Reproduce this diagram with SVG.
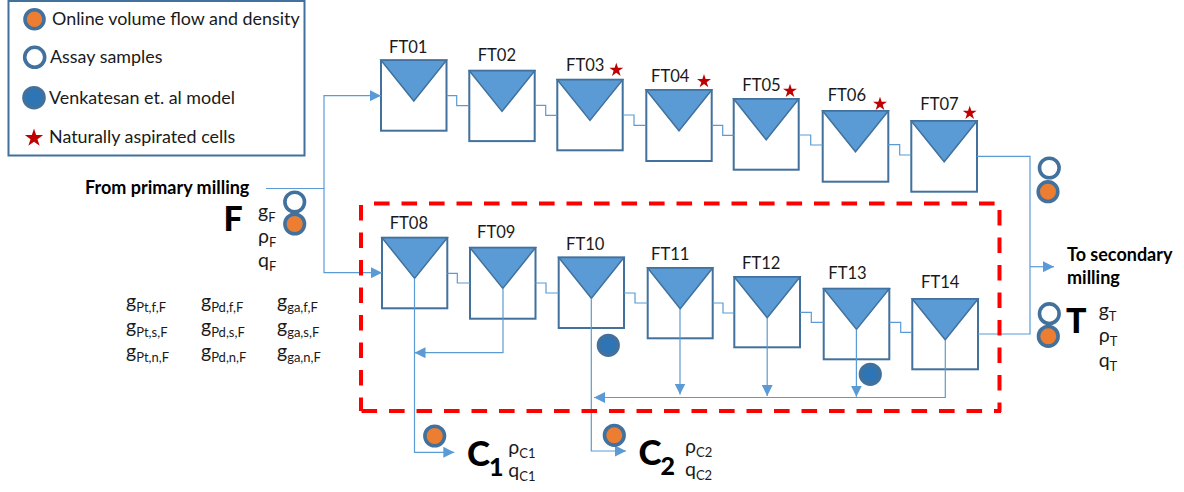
<svg xmlns="http://www.w3.org/2000/svg" width="1184" height="492" viewBox="0 0 1184 492">
<style>
text{font-family:Lato,Carlito,"Open Sans",sans-serif;fill:#1a1a1a}
.l{font-size:17.9px}
.ft{font-size:16.6px}
.v{font-size:19.5px}
.bl{font-size:18px;font-weight:700;fill:#000}
.big{font-size:34px;font-weight:900;fill:#000}
.cc{font-size:35px;font-weight:900;fill:#000}
.cn{font-size:25px;font-weight:900;fill:#000}
.s{font-size:13px}
.box{fill:#fff;stroke:#41719C;stroke-width:2}
.tri{fill:#5B9BD5;stroke:#41719C;stroke-width:1.5;stroke-linejoin:miter}
.c{fill:none;stroke:#5B9BD5;stroke-width:1.2}
.or{fill:#ED7D31;stroke:#41719C;stroke-width:3.6}
.as{fill:#fff;stroke:#41719C;stroke-width:3.6}
.ve{fill:#2E75B6;stroke:#41719C;stroke-width:3.6}
.st{fill:#C00000}
.red{fill:none;stroke:#FF0000;stroke-width:4;stroke-dasharray:15.6 11.9}
</style>
<defs>
<marker id="arr" markerUnits="userSpaceOnUse" markerWidth="11" markerHeight="11" viewBox="0 0 10 10" refX="10" refY="5" orient="auto"><path d="M0 0L10 5L0 10Z" fill="#5B9BD5"/></marker>
<path id="star" d="M0-8L1.8-2.48L7.61-2.47L2.91 .95L4.7 6.47L0 3.06L-4.7 6.47L-2.91 .95L-7.61-2.47L-1.8-2.48Z"/>
</defs>

<g id="legend">
<rect x="8.5" y="1" width="296" height="154.5" fill="#fff" stroke="#41719C" stroke-width="2"/>
<circle class="or" cx="34.5" cy="19.3" r="9.5"/>
<text class="l" x="52" y="25">Online volume flow and density</text>
<circle class="as" cx="34.7" cy="57.3" r="10"/>
<text class="l" x="50" y="63">Assay samples</text>
<circle class="ve" cx="34" cy="97.7" r="10"/>
<text class="l" x="49" y="104">Venkatesan et. al model</text>
<use href="#star" class="st" transform="translate(34 138) scale(1.2)"/>
<text class="l" x="49" y="143">Naturally aspirated cells</text>
</g>

<g id="nodes-top">
<g id="FT01"><rect class="box" x="381" y="60.3" width="65.5" height="70.4"/><path class="tri" d="M381 60.3H446.5L413.8 101Z"/><text class="ft" x="389" y="53">FT01</text></g>
<g id="FT02"><rect class="box" x="469.3" y="70.7" width="65.4" height="70.4"/><path class="tri" d="M469.3 70.7H534.7L502 111.4Z"/><text class="ft" x="477.7" y="60.7">FT02</text></g>
<g id="FT03"><rect class="box" x="557.3" y="79.7" width="65.4" height="70.6"/><path class="tri" d="M557.3 79.7H622.7L590 120.4Z"/><text class="ft" x="566" y="71.3">FT03</text><use href="#star" class="st" transform="translate(616.3 70) scale(.92)"/></g>
<g id="FT04"><rect class="box" x="646.3" y="90" width="65.4" height="71"/><path class="tri" d="M646.3 90H711.7L679 130.7Z"/><text class="ft" x="651" y="82">FT04</text><use href="#star" class="st" transform="translate(704 81.3) scale(.92)"/></g>
<g id="FT05"><rect class="box" x="733.7" y="99" width="65" height="70.7"/><path class="tri" d="M733.7 99H798.7L766.2 139.7Z"/><text class="ft" x="742.3" y="91">FT05</text><use href="#star" class="st" transform="translate(790 91) scale(.92)"/></g>
<g id="FT06"><rect class="box" x="822.7" y="111" width="65.6" height="70.7"/><path class="tri" d="M822.7 111H888.3L855.5 151.7Z"/><text class="ft" x="827.7" y="101">FT06</text><use href="#star" class="st" transform="translate(880 104) scale(.92)"/></g>
<g id="FT07"><rect class="box" x="911.3" y="121" width="65.7" height="70.7"/><path class="tri" d="M911.3 121H977L944.2 161.7Z"/><text class="ft" x="920.3" y="110">FT07</text><use href="#star" class="st" transform="translate(969.7 113) scale(.92)"/></g>
</g>

<g id="nodes-bottom">
<g id="FT08"><rect class="box" x="382" y="237.7" width="65.3" height="70.6"/><path class="tri" d="M382 237.7H447.3L414.6 278.4Z"/><text class="ft" x="389.7" y="229.3">FT08</text></g>
<g id="FT09"><rect class="box" x="470" y="247.7" width="65.5" height="71"/><path class="tri" d="M470 247.7H535.5L502.8 288.4Z"/><text class="ft" x="477" y="238">FT09</text></g>
<g id="FT10"><rect class="box" x="558.7" y="257.5" width="65.3" height="70.5"/><path class="tri" d="M558.7 257.5H624L591.4 298.2Z"/><text class="ft" x="566" y="250">FT10</text></g>
<g id="FT11"><rect class="box" x="647.7" y="268" width="65" height="70.3"/><path class="tri" d="M647.7 268H712.7L680.2 308.7Z"/><text class="ft" x="651" y="260">FT11</text></g>
<g id="FT12"><rect class="box" x="734.3" y="277" width="65.7" height="70.3"/><path class="tri" d="M734.3 277H800L767.2 317.7Z"/><text class="ft" x="742" y="269">FT12</text></g>
<g id="FT13"><rect class="box" x="823.7" y="288.7" width="65.6" height="70.6"/><path class="tri" d="M823.7 288.7H889.3L856.5 329.4Z"/><text class="ft" x="828.3" y="279">FT13</text></g>
<g id="FT14"><rect class="box" x="912.3" y="299" width="65.7" height="70.3"/><path class="tri" d="M912.3 299H978L945.2 339.7Z"/><text class="ft" x="921" y="288">FT14</text></g>
</g>

<g id="connectors">
<path class="c" d="M266 188.5H324V95.7H381" marker-end="url(#arr)"/>
<path class="c" d="M324 188.5V272.7H382" marker-end="url(#arr)"/>
<path class="c" d="M446.7 95.7H456.7V105.7H469.3"/>
<path class="c" d="M534.7 105.3H545.7V115.3H557.3"/>
<path class="c" d="M622.7 115H634V125.3H646.3"/>
<path class="c" d="M711.7 125.3H722.7V135.3H733.7"/>
<path class="c" d="M798.7 135H810.7V145H822.7"/>
<path class="c" d="M888.3 144.7H899.7V155H911.3"/>
<path class="c" d="M447.3 273.3H457.3V283H470"/>
<path class="c" d="M535.5 283H546V293H558.7"/>
<path class="c" d="M624 293H635V303H647.7"/>
<path class="c" d="M712.7 303H723V313H734.3"/>
<path class="c" d="M800 312.3H811.3V322.3H823.7"/>
<path class="c" d="M889.3 322.3H900.7V332.3H912.3"/>
<path class="c" d="M977 156.3H1030V334H978"/>
<path class="c" d="M1030 266.7H1054" marker-end="url(#arr)"/>
<path class="c" d="M414.5 278.4V452.3H454.3" marker-end="url(#arr)"/>
<path class="c" d="M503 288.4V352.7H414.5" marker-end="url(#arr)"/>
<path class="c" d="M591.3 298.2V451H626" marker-end="url(#arr)"/>
<path class="c" d="M680 308.7V394.5" marker-end="url(#arr)"/>
<path class="c" d="M767.2 317.7V396" marker-end="url(#arr)"/>
<path class="c" d="M856.4 329.4V396.7" marker-end="url(#arr)"/>
<path class="c" d="M945.3 339.7V397.5H594" marker-end="url(#arr)"/>
</g>

<g id="boundary">
<path class="red" d="M361 205V411"/>
<path class="red" d="M361.5 411H1001"/>
<path class="red" d="M374 203.5H995"/>
<path class="red" d="M999.5 210V412"/>
</g>

<g id="streams">
<circle class="as" cx="294.7" cy="202" r="9.8"/>
<circle class="or" cx="294.7" cy="224" r="9.8"/>
<circle class="as" cx="1049.3" cy="168" r="9.8"/>
<circle class="or" cx="1048" cy="191.7" r="9.8"/>
<circle class="as" cx="1049.3" cy="313.7" r="9.8"/>
<circle class="or" cx="1048.3" cy="336.3" r="9.8"/>
<circle class="ve" cx="608.3" cy="345.3" r="9.8"/>
<circle class="ve" cx="870.3" cy="374.3" r="9.8"/>
<circle class="or" cx="434.7" cy="436" r="9.8"/>
<circle class="or" cx="614.3" cy="435.3" r="9.8"/>
</g>

<g id="labels">
<text class="bl" x="85" y="194">From primary milling</text>
<text class="big" x="223.5" y="231">F</text>
<text class="v" x="258" y="218">g<tspan class="s" dy="4">F</tspan></text>
<text class="v" x="258" y="243">ρ<tspan class="s" dy="4">F</tspan></text>
<text class="v" x="258" y="267">q<tspan class="s" dy="4">F</tspan></text>

<text class="v" x="126" y="308">g<tspan class="s" dy="4">Pt,f,F</tspan></text>
<text class="v" x="201" y="308">g<tspan class="s" dy="4">Pd,f,F</tspan></text>
<text class="v" x="277" y="308">g<tspan class="s" dy="4">ga,f,F</tspan></text>
<text class="v" x="126" y="333">g<tspan class="s" dy="4">Pt,s,F</tspan></text>
<text class="v" x="201" y="333">g<tspan class="s" dy="4">Pd,s,F</tspan></text>
<text class="v" x="277" y="333">g<tspan class="s" dy="4">ga,s,F</tspan></text>
<text class="v" x="126" y="358">g<tspan class="s" dy="4">Pt,n,F</tspan></text>
<text class="v" x="201" y="358">g<tspan class="s" dy="4">Pd,n,F</tspan></text>
<text class="v" x="277" y="358">g<tspan class="s" dy="4">ga,n,F</tspan></text>

<text class="bl" x="1067" y="260.7">To secondary</text>
<text class="bl" x="1067" y="284">milling</text>
<text class="big" x="1066" y="333">T</text>
<text class="v" x="1098.7" y="317">g<tspan class="s" dy="4">T</tspan></text>
<text class="v" x="1098.7" y="342">ρ<tspan class="s" dy="4">T</tspan></text>
<text class="v" x="1098.7" y="367">q<tspan class="s" dy="4">T</tspan></text>

<text class="cc" x="467" y="466">C</text><text class="cn" x="489" y="476">1</text>
<text class="v" x="508.3" y="454">ρ<tspan class="s" dy="4">C1</tspan></text>
<text class="v" x="508.3" y="477">q<tspan class="s" dy="4">C1</tspan></text>
<text class="cc" x="638.5" y="465">C</text><text class="cn" x="660.5" y="475">2</text>
<text class="v" x="685" y="453">ρ<tspan class="s" dy="4">C2</tspan></text>
<text class="v" x="685" y="476">q<tspan class="s" dy="4">C2</tspan></text>
</g>
</svg>
